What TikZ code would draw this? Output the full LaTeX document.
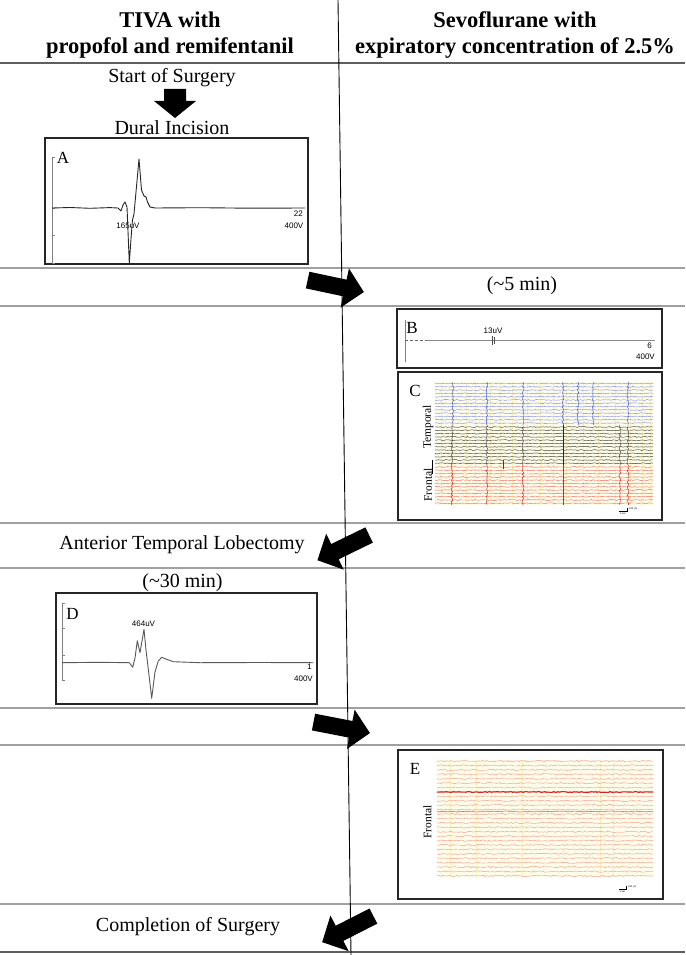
\documentclass[tikz,border=0pt]{standalone}
\usepackage{fontspec}
\setmainfont{Liberation Serif}
\newfontfamily\sansf{Liberation Sans}
\usetikzlibrary{decorations.pathmorphing}
\definecolor{rowgray}{RGB}{160,160,160}
\definecolor{darkrowgray}{RGB}{95,95,95}
\definecolor{eegbg}{RGB}{253,251,234}
\definecolor{ygrid}{RGB}{248,240,190}
\definecolor{eegblue}{RGB}{105,125,235}
\definecolor{eegbluedk}{RGB}{70,90,215}
\definecolor{eegblack}{RGB}{62,64,48}
\definecolor{eegred}{RGB}{242,100,90}
\definecolor{eegreddk}{RGB}{215,35,35}
\definecolor{eegsalmon}{RGB}{245,150,130}
\newcommand{\blockarr}[3]{\fill[black,shift={(#1,#2)},rotate=#3] (-28.5,-8.5) -- (9.5,-8.5) -- (9.5,-20) -- (29,0) -- (9.5,20) -- (9.5,8.5) -- (-28.5,8.5) -- cycle;}
\begin{document}
\begin{tikzpicture}[x=1pt,y=-1pt,
  rowline/.style={draw=rowgray,line width=1.1pt},
  darkrow/.style={draw=darkrowgray,line width=1.5pt},
  panel/.style={draw=black!85,line width=1.2pt},
  body/.style={font=\fontsize{20}{24}\selectfont,inner sep=0pt},
  headtxt/.style={font=\bfseries\fontsize{22.5}{26}\selectfont,align=center,inner sep=0pt},
  plabel/.style={font=\fontsize{17}{20}\selectfont,inner sep=0pt},
  tinytxt/.style={font=\sansf\fontsize{8}{9}\selectfont,inner sep=0pt},
  microtxt/.style={font=\sansf\fontsize{2.5}{3}\selectfont,inner sep=0pt},
  axisline/.style={draw=black!50,line width=0.7pt},
  trace/.style={line width=0.9pt,line join=round},
  eegline/.style={line width=0.35pt,decorate,decoration={random steps,segment length=1.8pt,amplitude=0.5pt}},
  spikeline/.style={line width=0.45pt,decorate,decoration={random steps,segment length=1.6pt,amplitude=1pt}},
  ylab/.style={font=\fontsize{11.5}{13}\selectfont,rotate=90,inner sep=0pt}
]
\pgfmathsetseed{4242}
\useasboundingbox (0,0) rectangle (685,955);
\fill[white] (0,0) rectangle (685,955);

% ---------- table lines ----------
\draw[darkrow] (0,63) -- (685,63);
\foreach \yy in {268,306,523,568,708,745,904} \draw[rowline] (0,\yy) -- (685,\yy);
\draw[darkrow] (0,952) -- (685,952);
\coordinate (vtop) at (338,0);
\coordinate (vbot) at (351,955);
\draw[black,line width=0.9pt] (vtop) -- (vbot);

% ---------- headers ----------
\node[headtxt] (hL) at (170,35) {TIVA with\\propofol and remifentanil};
\node[headtxt] (hR) at (515,35) {Sevoflurane with\\expiratory concentration of 2.5\%};

% ---------- left column texts ----------
\node[body] (start) at (172,78) {Start of Surgery};
\fill[black] (164,89) -- (186,89) -- (186,101) -- (196,101) -- (175,118) -- (154,101) -- (164,101) -- cycle;
\node[body] (dural) at (172,128) {Dural Incision};

% ---------- Panel A ----------
\draw[panel] (45,138) rectangle (308,264);
\node[plabel] (labA) at (63,158) {A};
\draw[axisline] (52,157) -- (52,263);
\foreach \t in {157,208,235,263} \draw[axisline] (52,\t) -- (54.5,\t);
\node[tinytxt] (aV) at (128,226) {165uV};
\node[tinytxt,anchor=east] (a22) at (303,214) {22};
\node[tinytxt,anchor=east] (a400) at (303.5,226) {400V};
\draw[trace,black!85] (52,208) -- (70,207.5) -- (90,208.3) -- (110,207.6) -- (118,208) -- (121,211) -- (123,205) -- (125,202) -- (127,207) -- (129.3,263) -- (131.5,232) -- (132.5,220) -- (134,214) -- (139,159) -- (141.5,190) -- (144,196) -- (146,197) -- (147.5,202) -- (150,207) -- (155,208) -- (200,207.7) -- (250,208.2) -- (305,208);

% ---------- arrow 1 and (~5 min) ----------
\blockarr{335.5}{286}{-12}
\node[body] (five) at (522,285.5) {(\textasciitilde5 min)};

% ---------- Panel B ----------
\draw[panel] (397,309) rectangle (662,368);
\node[plabel] (labB) at (412,328) {B};
\draw[axisline] (405,320) -- (405,362);
\draw[black!45,line width=0.7pt] (427,340) -- (655,340);
\draw[black!60,line width=0.7pt,dash pattern=on 3pt off 2pt] (405,340) -- (427,340);
\draw[black!70,line width=0.6pt] (492,336) -- (492,345) (494.5,337) -- (494.5,344);
\node[tinytxt] (b13) at (493,330.5) {13uV};
\node[tinytxt,anchor=east] (b6) at (652,346) {6};
\node[tinytxt,anchor=east] (b400) at (655,357) {400V};

% ---------- Panel C ----------
\draw[panel] (398,372) rectangle (662,520);
\node[plabel] (labC) at (415,391) {C};
\fill[eegbg] (435,382) rectangle (653,505);
\foreach \x in {441,452,466,475,490,500,512,527,540,553,566,583,598,615,630,642,650}
  \draw[ygrid,line width=0.6pt] (\x,382) -- (\x,505);
\foreach \i in {0,...,12}
  \draw[eegline,eegblue] (435,383.5+\i*3.3) -- (653,383.5+\i*3.3);
\foreach \i in {0,...,11}
  \draw[eegline,eegblack,line width=0.45pt] (435,427+\i*3.3) -- (653,427+\i*3.3);
\foreach \i in {0,...,11}
  \draw[eegline,eegred,line width=0.4pt] (435,467+\i*3.3) -- (653,467+\i*3.3);
\foreach \x in {453,487,523,563,578,593,628}
  \draw[spikeline,eegbluedk] (\x,382) -- (\x,425);
\foreach \x in {452,487,523,620,628}
  \draw[spikeline,black!70] (\x,425) -- (\x,465);
\draw[black!85,line width=0.8pt] (563,425) -- (563,465);
\draw[black!75,line width=0.45pt] (503,460) -- (503,469);
\foreach \x in {452,487,523,620,628}
  \draw[spikeline,eegreddk] (\x,465) -- (\x,505);
\draw[eegreddk,line width=0.8pt] (563,465) -- (563,505);
\node[ylab] (temporal) at (428,427) {Temporal};
\node[ylab] (frontalC) at (428,485) {Frontal};
\draw[black,line width=0.6pt] (432,460) -- (432,474);
\draw[black,line width=0.5pt] (619,511) -- (627,511) -- (627,508);
\node[microtxt,anchor=west] (c100) at (629,508.5) {100 µV};
\node[microtxt] (c1s) at (623,514) {1 sec};

% ---------- arrow 2 and ATL ----------
\blockarr{343.5}{547.5}{206}
\node[body] (atl) at (182,545) {Anterior Temporal Lobectomy};

% ---------- (~30 min) and Panel D ----------
\node[body] (thirty) at (182.5,583) {(\textasciitilde30 min)};
\draw[panel] (56,593) rectangle (317,704);
\node[plabel] (labD) at (72.5,613.5) {D};
\draw[axisline] (62,603) -- (62,680);
\foreach \t in {603,628,655,680} \draw[axisline] (62,\t) -- (64.5,\t);
\node[tinytxt] (d464) at (143.5,623.5) {464uV};
\node[tinytxt,anchor=east] (d1) at (312,667) {1};
\node[tinytxt,anchor=east] (d400) at (313,679) {400V};
\draw[trace,black!65] (62,662.7) -- (100,662.3) -- (129.3,662.7) -- (132.7,667.3) -- (135,658) -- (137.3,640.7) -- (140,652.7) -- (144,629.3) -- (146,650) -- (149,675) -- (151.7,698.3) -- (155,672) -- (158.3,661) -- (161.7,657.3) -- (166.7,659.3) -- (173.3,661.7) -- (200,662.7) -- (260,662.5) -- (313.3,662.7);

% ---------- arrow 3 ----------
\blockarr{341.5}{727.5}{-11}

% ---------- Panel E ----------
\draw[panel] (398,750) rectangle (663,899);
\node[plabel] (labE) at (415,769) {E};
\fill[eegbg] (437,760) rectangle (653,877);
\foreach \x in {450,476,522,600,613}
  \draw[ygrid,line width=0.6pt] (\x,760) -- (\x,877);
\foreach \i in {0,...,26}
  \draw[eegline,eegsalmon,line width=0.4pt,decoration={random steps,segment length=2pt,amplitude=0.7pt}] (437,761+\i*4.42) -- (653,761+\i*4.42);
\draw[eegline,eegreddk,line width=1.1pt] (437,792) -- (653,792);
\draw[eegline,eegred,line width=0.6pt] (437,811.5) -- (653,811.5);
\node[ylab] (frontalE) at (427.5,822) {Frontal};
\draw[black,line width=0.5pt] (619,889) -- (626,889) -- (626,886);
\node[microtxt,anchor=west] (e100) at (628,886.5) {100 µV};
\node[microtxt] (e1s) at (622.5,892) {1 sec};

% ---------- arrow 4 and completion ----------
\blockarr{348}{929}{207}
\node[body] (compl) at (188,927) {Completion of Surgery};
\end{tikzpicture}
\end{document}
